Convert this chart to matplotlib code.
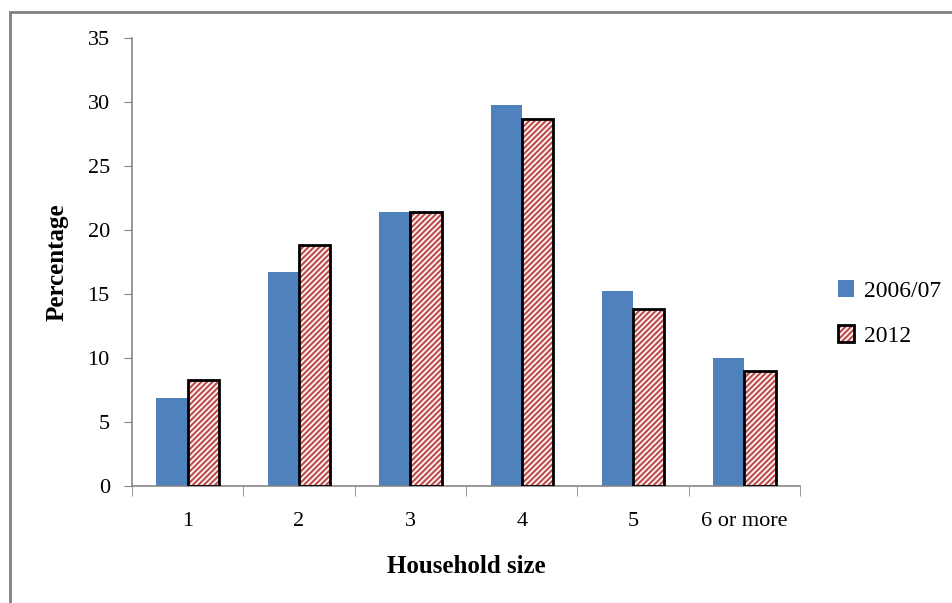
"""Household size distribution, 2006/07 vs 2012."""

import numpy as np
from matplotlib import pyplot
from matplotlib.patches import Rectangle

categories = ["1", "2", "3", "4", "5", "6 or more"]
share_2006 = [6.9, 16.7, 21.4, 29.8, 15.2, 10.0]
share_2012 = [8.3, 18.8, 21.4, 28.7, 13.8, 9.0]

BLUE = "#4F81BD"
RED = "#C0504D"
AXIS = "#868686"

pyplot.rcParams["font.family"] = ["Liberation Serif", "DejaVu Serif"]
pyplot.rcParams["hatch.linewidth"] = 1.6

fig = pyplot.figure(figsize=(9.53, 6.03), dpi=100)
ax = fig.add_axes([0.1385, 0.194, 0.701, 0.743])

x = np.arange(len(categories))
width = 0.28

bars_old = ax.bar(x - width / 2, share_2006, width, color=BLUE, linewidth=0,
                  zorder=2)
# hatched fill first, then a black outline on top of it
bars_new = ax.bar(x + width / 2, share_2012, width, color="white",
                  edgecolor=RED, hatch="//////", linewidth=0, zorder=2)
outline = ax.bar(x + width / 2, share_2012, width, fill=False,
                 edgecolor="black", linewidth=2, zorder=3)

ax.set_xlim(-0.5, len(categories) - 0.5)
ax.set_ylim(0, 35)
ax.set_yticks(range(0, 36, 5))
ax.set_xticks(x)
ax.set_xticklabels(categories)
ax.set_xticks(np.arange(len(categories) + 1) - 0.5, minor=True)
ax.tick_params(axis="x", which="major", length=0, pad=19, labelsize=16)
ax.tick_params(axis="x", which="minor", length=7, color=AXIS, direction="out")
ax.tick_params(axis="y", length=6, color=AXIS, pad=10, labelsize=16)

for side in ("top", "right"):
    ax.spines[side].set_visible(False)
for side in ("left", "bottom"):
    ax.spines[side].set_color(AXIS)
    ax.spines[side].set_linewidth(1.2)

ax.set_xlabel("Household size", fontsize=18, fontweight="bold", labelpad=17)
ax.set_ylabel("Percentage", fontsize=18, fontweight="bold", labelpad=14)

fig.legend([bars_old, (bars_new, outline)], ["2006/07", "2012"],
           loc="center left", bbox_to_anchor=(0.857, 0.48), frameon=False,
           fontsize=17, handlelength=0.7, handleheight=0.7,
           handletextpad=0.4, labelspacing=1.0)

# grey frame around the chart area
fig.patches.append(Rectangle((10 / 953, -0.05), 1.1, 1 - 12 / 603 + 0.05,
                             transform=fig.transFigure, fill=False,
                             edgecolor="#808080", linewidth=2))

fig.savefig("out.png", dpi=100)
